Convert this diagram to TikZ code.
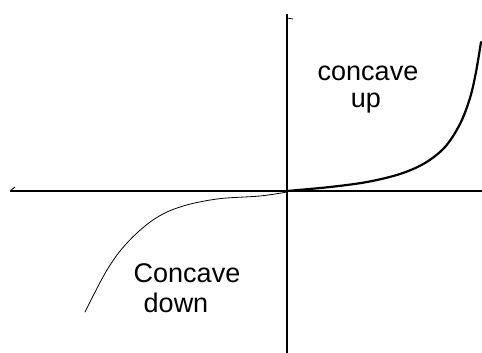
\documentclass[tikz,border=0pt]{standalone}
\usepackage{fontspec}
\setmainfont{Liberation Sans}
\begin{document}
\begin{tikzpicture}[x=1pt,y=-1pt,
  axis/.style={line width=1.6pt,black},
  thick curve/.style={line width=2.2pt,black,line cap=round},
  thin curve/.style={line width=0.8pt,black,line cap=round},
  lab/.style={font=\fontsize{27}{27}\selectfont,inner sep=0pt}]
\useasboundingbox (0,0) rectangle (482,353);
\coordinate (ytop) at (287,14);
\coordinate (ybot) at (287,353);
\coordinate (xl) at (10,191);
\coordinate (xr) at (482,191);
\coordinate (O) at (287,191);
\draw[axis] (ytop) -- (ybot);
\draw[axis] (xl) -- (xr);
\draw[line width=0.8pt] (ytop) ++(0,4) -- ++(6,1);
\draw[line width=0.8pt] (xl) -- ++(5,-4);
\draw[thick curve] plot[smooth,tension=0.55] coordinates {(287,191) (330,187) (367,182) (400,174) (425,163) (445,147) (460,124) (470,98) (476,72) (481,42)};
\draw[thin curve] plot[smooth,tension=0.6] coordinates {(287,192) (260,196) (217,199) (180,207) (153,220) (127,243) (107,270) (85,312)};
\node[lab] (cu1) at (368,73) {concave};
\node[lab] (cu2) at (366,103) {up};
\node[lab] (cd1) at (187,273) {Concave};
\node[lab] (cd2) at (176,303) {down};
\end{tikzpicture}
\end{document}
